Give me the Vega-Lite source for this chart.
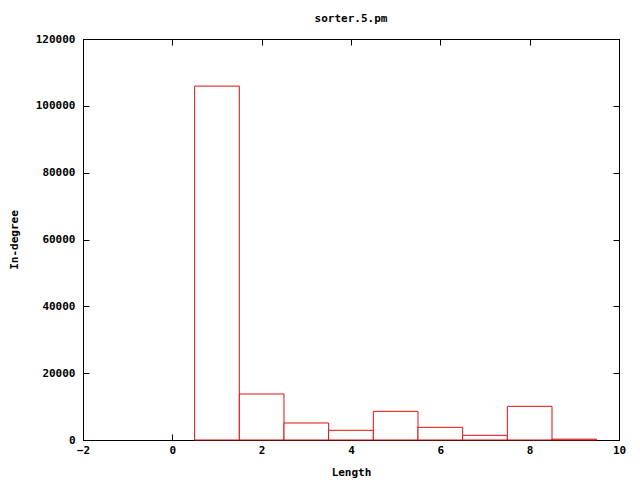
{
  "$schema": "https://vega.github.io/schema/vega-lite/v6.json",
  "autosize": {"type": "none"},
  "padding": {"left": 83, "top": 39, "right": 21, "bottom": 40},
  "width": 536,
  "height": 401,
  "background": "white",
  "title": {"text": "sorter.5.pm", "font": "DejaVu Sans Mono", "fontSize": 11, "fontWeight": "bold", "color": "black", "offset": 9},
  "data": {"values": [
    {"bin_start": 0.5, "bin_end": 1.5, "count": 105900},
    {"bin_start": 1.5, "bin_end": 2.5, "count": 13770},
    {"bin_start": 2.5, "bin_end": 3.5, "count": 5090},
    {"bin_start": 3.5, "bin_end": 4.5, "count": 2900},
    {"bin_start": 4.5, "bin_end": 5.5, "count": 8580},
    {"bin_start": 5.5, "bin_end": 6.5, "count": 3790},
    {"bin_start": 6.5, "bin_end": 7.5, "count": 1400},
    {"bin_start": 7.5, "bin_end": 8.5, "count": 10080},
    {"bin_start": 8.5, "bin_end": 9.5, "count": 250}
  ]},
  "config": {
    "view": {"stroke": "black", "strokeWidth": 1},
    "axis": {
      "labelFont": "DejaVu Sans Mono", "labelFontSize": 11, "labelFontWeight": "bold", "labelColor": "black",
      "titleFont": "DejaVu Sans Mono", "titleFontSize": 11, "titleFontWeight": "bold", "titleColor": "black",
      "domainColor": "black", "tickColor": "black", "grid": false, "tickSize": -6
    }
  },
  "layer": [
    {
      "mark": {"type": "rect", "fill": "white", "stroke": "#dd1111", "strokeWidth": 1},
      "encoding": {
        "x": {"field": "bin_start", "type": "quantitative", "scale": {"domain": [-2, 10], "nice": false},
              "axis": {"values": [-2, 0, 2, 4, 6, 8, 10], "title": "Length", "labelPadding": 10, "titlePadding": 11, "labelFlush": false}},
        "x2": {"field": "bin_end"},
        "y": {"field": "count", "type": "quantitative", "scale": {"domain": [0, 120000], "nice": false},
              "axis": {"values": [0, 20000, 40000, 60000, 80000, 100000, 120000], "title": "In-degree", "labelPadding": 14, "titlePadding": 16, "format": "d", "labelFlush": false}},
        "y2": {"datum": 0}
      }
    },
    {
      "mark": {"type": "rule", "opacity": 0},
      "encoding": {
        "x": {"field": "bin_start", "type": "quantitative", "axis": {"orient": "top", "values": [-2, 0, 2, 4, 6, 8, 10], "labels": false, "title": null}},
        "y": {"field": "count", "type": "quantitative", "axis": {"orient": "right", "values": [0, 20000, 40000, 60000, 80000, 100000, 120000], "labels": false, "title": null}}
      }
    }
  ],
  "resolve": {"axis": {"x": "independent", "y": "independent"}}
}
